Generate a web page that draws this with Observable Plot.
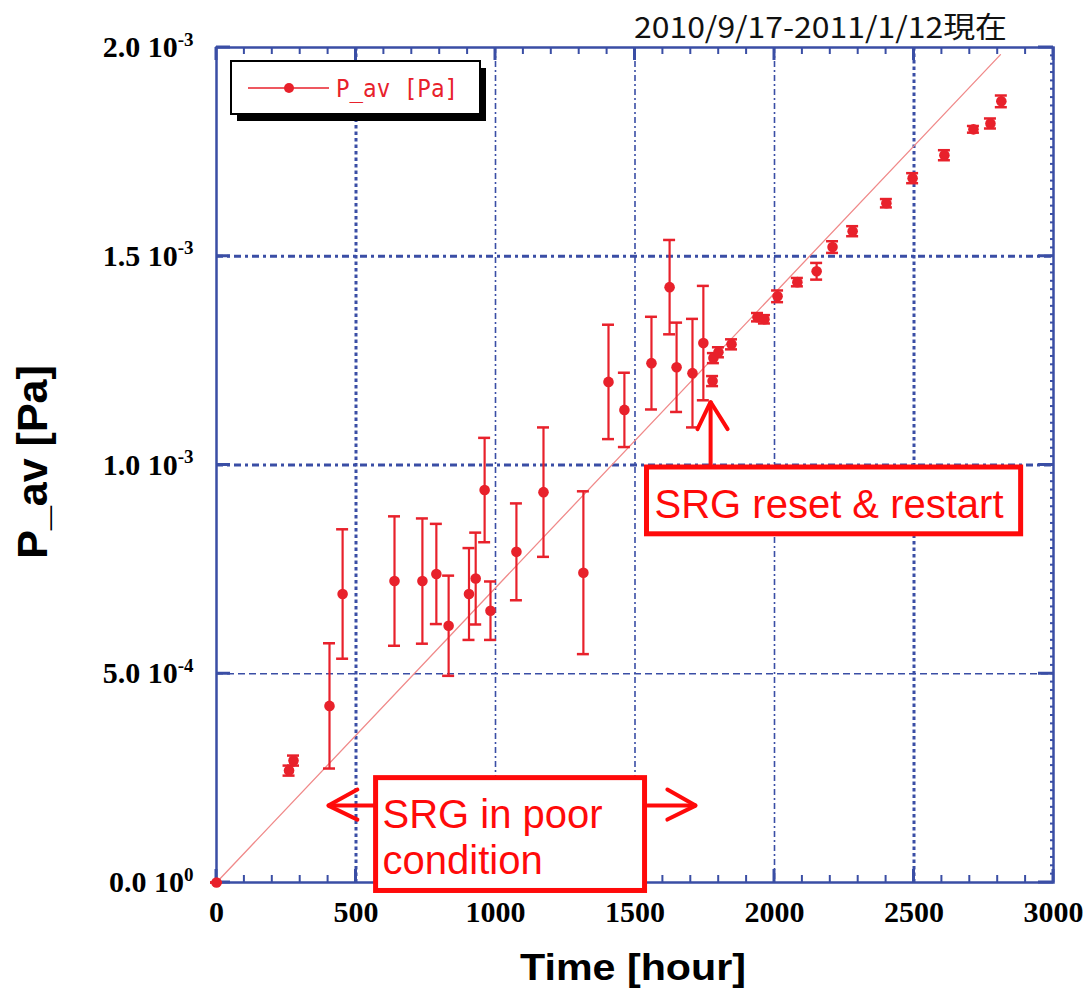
<!DOCTYPE html>
<html><head><meta charset="utf-8">
<script src="https://cdn.jsdelivr.net/npm/d3@7"></script>
<script src="https://cdn.jsdelivr.net/npm/@observablehq/plot@0.6"></script>
<style>body{margin:0;background:#fff}</style>
</head><body><div id="chart"></div>
<script>
// ---- data (P_av in units of 1e-3 Pa) ----
const hours = [0, 260, 276, 405, 452, 638, 738, 788, 832, 905, 929, 961, 982, 1075, 1172, 1315, 1405, 1462, 1559, 1624, 1649, 1706, 1745, 1778, 1781, 1799, 1846, 1939, 1964, 2011, 2082, 2151, 2208, 2280, 2401, 2495, 2609, 2713, 2774, 2813];
const pav   = [0, 0.268, 0.292, 0.423, 0.691, 0.722, 0.722, 0.739, 0.615, 0.691, 0.728, 0.940, 0.651, 0.792, 0.935, 0.742, 1.199, 1.132, 1.244, 1.426, 1.234, 1.220, 1.292, 1.201, 1.256, 1.270, 1.289, 1.354, 1.349, 1.404, 1.438, 1.464, 1.522, 1.560, 1.627, 1.687, 1.742, 1.804, 1.818, 1.871];
const perr  = [0, 0.012, 0.012, 0.150, 0.155, 0.155, 0.150, 0.120, 0.120, 0.110, 0.110, 0.125, 0.070, 0.116, 0.155, 0.195, 0.137, 0.089, 0.111, 0.113, 0.107, 0.130, 0.137, 0.012, 0.012, 0.012, 0.012, 0.010, 0.010, 0.014, 0.010, 0.020, 0.014, 0.012, 0.010, 0.012, 0.012, 0.008, 0.012, 0.014];
const fitHours = [0, 2810];
const fitPav   = [0, 1.983];

const xTicks = [0, 500, 1000, 1500, 2000, 2500, 3000];
const xGrid  = [500, 1000, 1500, 2000, 2500];
const yTicks = [0, 5e-4, 1e-3, 1.5e-3, 2e-3];
const yTickLabels = ["0.0 10^0", "5.0 10^-4", "1.0 10^-3", "1.5 10^-3", "2.0 10^-3"];
const yGrid  = [5e-4, 1e-3, 1.5e-3];

const titleText = "2010/9/17-2011/1/12現在";
const xLabel = "Time [hour]";
const yLabel = "P_av [Pa]";
const legendLabel = "P_av [Pa]";

// annotations (data coordinates)
const boxes = [
  {x1: 572, x2: 1536, y1: -2.03e-5, y2: 2.50e-4},
  {x1: 1543, x2: 2884, y1: 8.34e-4, y2: 9.94e-4}
];
const notes = [
  {x: 595, y: 1.316e-4, text: "SRG in poor"},
  {x: 595, y: 2.15e-5, text: "condition"},
  {x: 1570, y: 8.73e-4, text: "SRG reset & restart"}
];
const arrowPaths = [
  [[563, 1.842e-4], [401, 1.842e-4]],
  [[505, 2.225e-4], [401, 1.842e-4], [505, 1.507e-4]],
  [[1545, 1.842e-4], [1717, 1.842e-4]],
  [[1616, 2.225e-4], [1717, 1.842e-4], [1616, 1.507e-4]],
  [[1771, 1.0e-3], [1771, 1.151e-3]],
  [[1724, 1.086e-3], [1771, 1.151e-3], [1832, 1.086e-3]]
];

// ---- build tables ----
const points = hours.map((h, i) => ({h, p: pav[i] * 1e-3, e: perr[i] * 1e-3}));
const fit = fitHours.map((h, i) => ({h, p: fitPav[i] * 1e-3}));
const arrows = arrowPaths.flatMap((pts, k) => pts.map(([x, y]) => ({x, y, k})));
const xMinor = d3.range(0, 3001, 100);
const yRightMinor = d3.range(0, 2.0001e-3, 2e-5);
const yLab = new Map(yTicks.map((t, i) => [t, yTickLabels[i]]));

const blue = "#3a4ea5";
const red = "#e8212b";
const boxRed = "#ff0a0a";

const plot = Plot.plot({
  width: 1086, height: 993,
  marginLeft: 216, marginRight: 33, marginTop: 47, marginBottom: 111,
  x: {domain: [0, 3000]},
  y: {domain: [0, 2e-3]},
  marks: [
    // grid
    Plot.ruleX(xGrid.filter(d => d === 500 || d === 2500), {x: d => d, stroke: blue, strokeWidth: 3, strokeDasharray: "3.5,3"}),
    Plot.ruleX(xGrid.filter(d => d !== 500 && d !== 2500), {x: d => d, stroke: blue, strokeWidth: 1.6, strokeDasharray: "6,3,2,3"}),
    Plot.ruleY(yGrid.filter(d => d >= 1e-3), {y: d => d, stroke: blue, strokeWidth: 3, strokeDasharray: "7,4,3,4"}),
    Plot.ruleY(yGrid.filter(d => d < 1e-3), {y: d => d, stroke: blue, strokeWidth: 1.6, strokeDasharray: "7,4"}),
    Plot.frame({stroke: blue, strokeWidth: 2.5}),
    // axes labels
    Plot.axisX({ticks: xTicks, tickSize: 0, tickPadding: 18, tickFormat: d => String(d)}),
    Plot.axisY({ticks: yTicks, tickSize: 0, tickPadding: 23, tickFormat: d => yLab.get(d) ?? ""}),
    // fit line
    Plot.line(fit, {x: "h", y: "p", stroke: "#f08a8a", strokeWidth: 1.3}),
    // error bars
    Plot.ruleX(points, {x: "h", y1: d => d.p - d.e, y2: d => d.p + d.e, stroke: red, strokeWidth: 2.2}),
    Plot.ruleY(points, {y: d => d.p - d.e, x1: "h", x2: "h", insetLeft: -6, insetRight: -6, stroke: red, strokeWidth: 2.5}),
    Plot.ruleY(points, {y: d => d.p + d.e, x1: "h", x2: "h", insetLeft: -6, insetRight: -6, stroke: red, strokeWidth: 2.5}),
    Plot.dot(points, {x: "h", y: "p", r: 5.3, fill: red, stroke: "none"}),
    // annotations
    Plot.rect(boxes, {x1: "x1", x2: "x2", y1: "y1", y2: "y2", fill: "white", stroke: boxRed, strokeWidth: 5}),
    Plot.text(notes, {x: "x", y: "y", text: "text", textAnchor: "start", dy: -12.8, fill: boxRed, fontSize: 40, fontFamily: "Liberation Sans, Arial, sans-serif"}),
    Plot.line(arrows, {x: "x", y: "y", z: "k", stroke: boxRed, strokeWidth: 4, strokeLinejoin: "miter"})
  ]
});

const svg = d3.select(plot);
svg.style("overflow", "visible").style("background", "white");
const X = plot.scale("x"), Y = plot.scale("y");
const xs = v => X.apply(v), ys = v => Y.apply(v);

// inward ticks drawn from the plot's scales, placed under the annotation boxes
const tg = svg.insert("g", 'g[aria-label="line"]').attr("stroke", blue);
const y0 = ys(0), yTop = ys(2e-3), x0 = xs(0), xR = xs(3000);
for (const t of xMinor) {
  const major = t % 500 === 0;
  const len = major ? 13 : 7, sw = major ? 3 : 2;
  tg.append("line").attr("x1", xs(t)).attr("x2", xs(t)).attr("y1", y0).attr("y2", y0 - len).attr("stroke-width", sw);
  tg.append("line").attr("x1", xs(t)).attr("x2", xs(t)).attr("y1", yTop).attr("y2", yTop + len).attr("stroke-width", sw);
}
for (const t of yTicks) {
  tg.append("line").attr("x1", x0).attr("x2", x0 + 14).attr("y1", ys(t)).attr("y2", ys(t)).attr("stroke-width", 3);
  tg.append("line").attr("x1", xR).attr("x2", xR - 15).attr("y1", ys(t)).attr("y2", ys(t)).attr("stroke-width", 3);
}
for (const t of yRightMinor) {
  tg.append("line").attr("x1", xR).attr("x2", xR - 3).attr("y1", ys(t)).attr("y2", ys(t)).attr("stroke-width", 2);
}

const serif = "Liberation Serif, Times New Roman, serif";
// tick label styling
svg.selectAll('g[aria-label="x-axis tick label"], g[aria-label="y-axis tick label"]')
  .attr("font-family", serif).attr("font-weight", "bold").attr("font-size", 30).attr("fill", "#000");
svg.select('g[aria-label="y-axis tick label"]').selectAll("text").each(function() {
  const s = this.textContent;
  const [base, sup] = s.split("^");
  const t = d3.select(this);
  t.text(null);
  t.append("tspan").text(base);
  t.append("tspan").attr("font-size", 19).attr("dy", "-0.6em").text(sup);
});

// title
svg.append("text").attr("x", 1007).attr("y", 38).attr("text-anchor", "end")
  .attr("font-family", "Noto Sans CJK JP, sans-serif").attr("font-size", 29).attr("fill", "#111")
  .attr("textLength", 373).attr("lengthAdjust", "spacingAndGlyphs").text(titleText);

// axis titles
svg.append("text").attr("x", 633).attr("y", 980).attr("text-anchor", "middle")
  .attr("font-family", "Liberation Sans, Arial, sans-serif").attr("font-weight", "bold")
  .attr("font-size", 36).attr("fill", "#000")
  .attr("textLength", 226).attr("lengthAdjust", "spacingAndGlyphs").text(xLabel);
svg.append("text").attr("transform", "translate(47,462) rotate(-90)").attr("text-anchor", "middle")
  .attr("font-family", "Liberation Sans, Arial, sans-serif").attr("font-weight", "bold")
  .attr("font-size", 43).attr("fill", "#000").text(yLabel);

// legend
const lg = svg.append("g");
lg.append("rect").attr("x", 237).attr("y", 68).attr("width", 249).attr("height", 53).attr("fill", "#000");
lg.append("rect").attr("x", 231).attr("y", 61).attr("width", 249).attr("height", 53)
  .attr("fill", "white").attr("stroke", "#000").attr("stroke-width", 2);
lg.append("line").attr("x1", 248).attr("x2", 329).attr("y1", 88).attr("y2", 88)
  .attr("stroke", red).attr("stroke-width", 1.5);
lg.append("circle").attr("cx", 289).attr("cy", 88).attr("r", 5).attr("fill", red);
lg.append("text").attr("x", 336).attr("y", 97).attr("text-anchor", "start")
  .attr("font-family", "DejaVu Sans Mono, monospace")
  .attr("font-size", 24).attr("fill", red)
  .attr("textLength", 122).attr("lengthAdjust", "spacingAndGlyphs").text(legendLabel);

document.getElementById("chart").appendChild(plot);
</script>
</body></html>
